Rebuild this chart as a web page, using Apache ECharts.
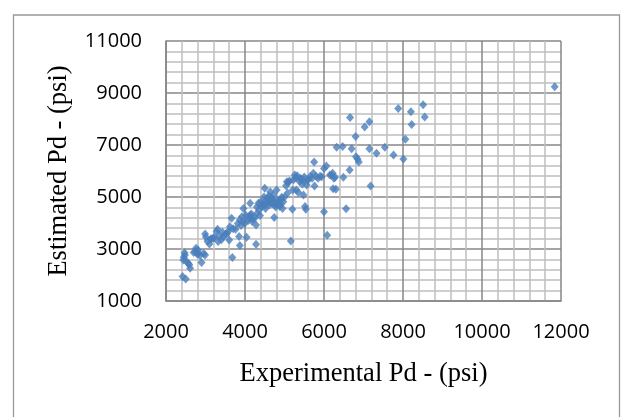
<!DOCTYPE html>
<html>
<head>
<meta charset="utf-8">
<script src="https://cdn.jsdelivr.net/npm/echarts@6/dist/echarts.min.js"></script>
<style>html,body{margin:0;padding:0;background:#fff}#c{width:622px;height:417px}</style>
</head>
<body>
<div id="c"></div>
<script>
// Experimental Pd (psi)
const experimentalPd = [
2420,2500,2440,2480,2450,2520,2470,2560,2610,2590,2760,2740,2790,2820,2860,2900,2950,2990,2810,2700,
2990,3010,3050,3100,3150,3200,3280,3320,3350,3400,3450,3500,3540,3580,3620,3600,3660,3680,3700,3760,
3820,3850,3870,3870,3900,3920,3960,3950,4000,4020,4040,4080,4100,4130,4130,4160,4200,4250,4280,4280,
4300,4300,4340,4360,4400,4420,4450,4480,4500,4520,4550,4560,4590,4600,4620,4640,4660,4680,4700,4720,
4740,4750,4780,4800,4820,4850,4880,4900,4930,4950,4970,5000,5040,5060,5080,5100,5130,5160,5200,5210,
5230,5260,5280,5300,5320,5350,5380,5400,5420,5450,5480,5480,5500,5520,5540,5560,5580,5600,5650,5700,
5730,5750,5760,5800,5850,5900,5940,6000,6000,6060,6080,6150,6190,6220,6230,6250,6280,6300,6320,6470,
6490,6560,6650,6660,6700,6800,6810,6850,6880,7030,7150,7150,7180,7330,7540,7760,7880,8010,8060,8200,
8220,8510,8550,11840,
4180,4380,4440,4510,4700,4780,4860,4900,4580,3130,3430,3220,3306
];
// Estimated Pd (psi)
const estimatedPd = [
1940,1850,2580,2770,2680,2520,2860,2450,2260,2390,3030,2900,2810,2830,2750,2480,2830,2770,2960,2870,
3580,3460,3300,3190,3380,3420,3670,3290,3500,3360,3470,3560,3600,3680,3860,3350,4180,2670,3780,3760,
3980,3480,3130,4120,3900,4240,4560,4050,3990,4300,3450,4100,4200,4760,4310,4350,4150,4200,3180,3920,
4370,4620,4760,4500,4820,4630,4700,5000,5340,4560,4900,4780,4820,5040,4700,5200,4760,4950,4850,5080,
4210,4690,4620,5270,4880,4800,4630,4750,4990,4560,4820,5000,5430,5590,5150,5580,5620,3310,4530,5270,
5660,5850,5740,5270,5820,5170,5600,5720,5660,5500,5080,5650,5770,4630,4530,5460,5640,5660,5790,5720,
5910,6350,5420,5800,5720,5800,5780,4430,6100,6190,3530,5850,5850,5910,5320,5720,5760,5300,6910,6940,
5760,4550,6040,8060,6860,7330,6550,6460,6350,7690,7890,6860,5420,6680,6910,6620,8400,6460,7220,8280,
7790,8550,8080,9240,
4060,4290,4720,4680,4760,4770,4710,4900,4950,3380,3640,3440,3764
];
const xTicks = [2000, 4000, 6000, 8000, 10000, 12000];
const yTicks = [1000, 3000, 5000, 7000, 9000, 11000];

const points = experimentalPd.map((x, i) => [x, estimatedPd[i]]);
const chart = echarts.init(document.getElementById('c'), null, {renderer: 'canvas'});
const tickFont = {fontFamily: 'Open Sans', fontSize: 20, color: '#000', formatter: v => String(v)};
const nameFont = {fontFamily: 'Liberation Serif', fontSize: 26.5, color: '#000'};
chart.setOption({
  animation: false,
  backgroundColor: '#fff',
  graphic: [{
    type: 'rect', left: 11, top: 12.5, z: -10,
    shape: {x: 0, y: 0, width: 606, height: 420},
    style: {fill: 'none', stroke: '#999', lineWidth: 1.3}
  }],
  grid: {left: 166, right: 61, top: 41, bottom: 116, containLabel: false},
  xAxis: {
    type: 'value', min: xTicks[0], max: xTicks[xTicks.length - 1], interval: 2000,
    name: 'Experimental Pd - (psi)', nameLocation: 'middle', nameGap: 60, nameTextStyle: nameFont,
    axisLine: {show: true, lineStyle: {color: '#868686', width: 1.5}},
    axisTick: {show: false},
    axisLabel: Object.assign({margin: 21}, tickFont),
    splitLine: {show: true, lineStyle: {color: '#878787', width: 1.5}},
    minorTick: {show: false, splitNumber: 5},
    minorSplitLine: {show: true, lineStyle: {color: '#bfbfbf', width: 1.5}}
  },
  yAxis: {
    type: 'value', min: yTicks[0], max: yTicks[yTicks.length - 1], interval: 2000,
    name: 'Estimated Pd - (psi)', nameLocation: 'middle', nameGap: 93, nameRotate: 90, nameTextStyle: nameFont,
    axisLine: {show: true, lineStyle: {color: '#868686', width: 1.5}},
    axisTick: {show: false},
    axisLabel: Object.assign({margin: 24}, tickFont),
    splitLine: {show: true, lineStyle: {color: '#878787', width: 1.5}},
    minorTick: {show: false, splitNumber: 5},
    minorSplitLine: {show: true, lineStyle: {color: '#bfbfbf', width: 1.5}}
  },
  series: [{
    type: 'scatter', data: points, symbol: 'diamond', symbolSize: [8, 9],
    itemStyle: {color: '#4a7ebb'}, z: 5
  }]
});
</script>
</body>
</html>
